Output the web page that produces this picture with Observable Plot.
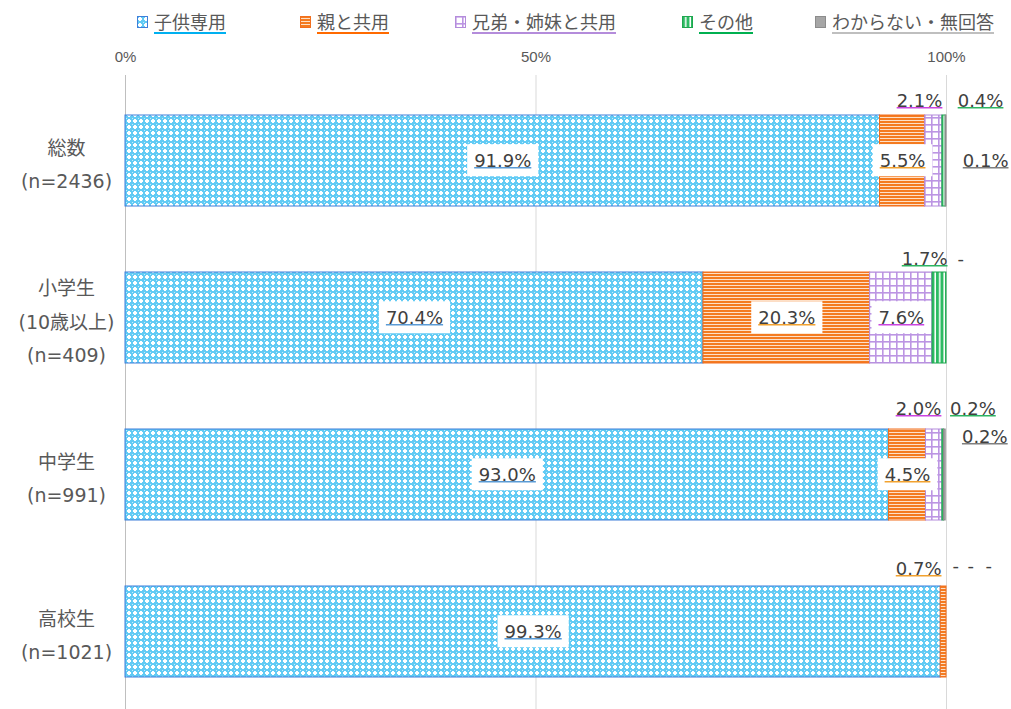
<!DOCTYPE html>
<html><head><meta charset="utf-8">
<script src="https://cdn.jsdelivr.net/npm/d3@7"></script>
<script src="https://cdn.jsdelivr.net/npm/@observablehq/plot@0.6"></script>
<style>
body{margin:0;background:#fff;width:1011px;height:709px;overflow:hidden;font-family:"DejaVu Sans","Noto Sans CJK JP",sans-serif;}
#legend{position:relative;height:40px;}
.item{position:absolute;top:10px;display:flex;align-items:center;font-size:18px;color:#595959;font-family:"Noto Sans CJK JP",sans-serif;white-space:nowrap;}
.item svg{margin-right:6px;}
.item span{border-bottom:2px solid;line-height:22px;}
</style></head><body>
<svg width="0" height="0" style="position:absolute">
<defs>
<pattern id="p0" width="6" height="6" patternUnits="userSpaceOnUse">
<rect width="6" height="6" fill="#62CBF4"/>
<rect x="2" y="1" width="2" height="4" fill="#fff"/>
<rect x="1" y="2" width="4" height="2" fill="#fff"/>
<rect x="0" y="0" width="1" height="1" fill="#C4EBFB"/>
</pattern>
<pattern id="p1" width="4" height="3" patternUnits="userSpaceOnUse">
<rect width="4" height="3" fill="#F47B20"/>
<rect y="2" width="4" height="1" fill="#FDE0C8"/>
</pattern>
<pattern id="p2" width="7" height="7" patternUnits="userSpaceOnUse">
<rect width="7" height="7" fill="#fff"/>
<rect width="1.6" height="7" fill="#BC95E3"/>
<rect width="7" height="1.6" fill="#BC95E3"/>
</pattern>
<pattern id="p3" width="4.5" height="4" patternUnits="userSpaceOnUse">
<rect width="4.5" height="4" fill="#2DBB63"/>
<rect x="3" width="1.5" height="4" fill="#fff"/>
</pattern>
<pattern id="p4" width="4" height="4" patternUnits="userSpaceOnUse">
<rect width="4" height="4" fill="#A6A6A6"/>
</pattern>
</defs>
</svg>
<div id="legend"></div><div id="chart"></div>
<script>
const categories = ["総数", "小学生", "中学生", "高校生"];
const categoryLabels = ["総数\n(n=2436)", "小学生\n(10歳以上)\n(n=409)", "中学生\n(n=991)", "高校生\n(n=1021)"];
const series = ["子供専用", "親と共用", "兄弟・姉妹と共用", "その他", "わからない・無回答"];
const valuesKodomo = [91.9, 70.4, 93.0, 99.3];
const valuesOya = [5.5, 20.3, 4.5, 0.7];
const valuesKyodai = [2.1, 7.6, 2.0, 0];
const valuesSonota = [0.4, 1.7, 0.2, 0];
const valuesWakaranai = [0.1, 0, 0.2, 0];
const xTicks = [0, 50, 100];

// styles
const patternUrls = ["url(#p0)", "url(#p1)", "url(#p2)", "url(#p3)", "url(#p4)"];
const strokeColors = ["#3F7FDA", "#F26F1E", "#B48CDB", "#1FA64F", "#8C8C8C"];
const legendLine = ["#00B0F0", "#FF6A00", "#B48CDB", "#00B050", "#BFBFBF"];
const labelLine = ["#5B9BD5", "#F2A22F", "#CC44E0", "#2DB562", "#7F7F7F"];
const legendLeft = [137, 300, 455, 682, 815];
// label placement: ["in"] centred in segment, or [anchor, dx, dy] relative to segment end
const placement = {
  "総数": [["in"], ["in"], ["end", 0, -60], ["start", 12, -60], ["end", 62, 0]],
  "小学生": [["in"], ["in"], ["in"], ["end", 1, -59], ["start", 11, -59]],
  "中学生": [["in"], ["in"], ["end", -1, -66], ["start", 6, -66], ["end", 62, -38]],
  "高校生": [["in"], ["end", -5, -63], ["start", 6, -66], ["start", 21, -66], ["start", 39, -66]]
};

const seriesValues = [valuesKodomo, valuesOya, valuesKyodai, valuesSonota, valuesWakaranai];
const rows = [];
categories.forEach((c, i) => {
  let acc = 0;
  seriesValues.forEach((arr, j) => {
    const v = arr[i];
    rows.push({cat: c, j, value: v, x1: acc, x2: acc + v, text: v > 0 ? v.toFixed(1) + "%" : "-"});
    acc += v;
  });
});

// legend
const legend = document.getElementById("legend");
series.forEach((s, j) => {
  const d = document.createElement("div");
  d.className = "item";
  d.style.left = legendLeft[j] + "px";
  d.innerHTML = `<svg width="11" height="12"><rect x="0.5" y="0.5" width="10" height="11" fill="${patternUrls[j]}" stroke="${strokeColors[j]}"/></svg><span style="border-color:${legendLine[j]}">${s}</span>`;
  legend.appendChild(d);
});

const labelMarks = rows.map(r => {
  const p = placement[r.cat][r.j];
  const inside = p[0] === "in";
  const kind = inside ? "in" : (r.value > 0 ? "out" : "dash");
  return Plot.text([r], {
    x: d => inside ? (d.x1 + d.x2) / 2 : d.x2,
    y: "cat",
    text: "text",
    textAnchor: inside ? "middle" : p[0],
    dx: inside ? 0 : p[1],
    dy: inside ? 0 : p[2],
    fontSize: 18,
    fill: "#404040",
    className: `lbl ${kind} s${r.j}`
  });
});

const chart = Plot.plot({
  width: 1011, height: 671,
  marginTop: 42, marginLeft: 125, marginRight: 65, marginBottom: 0,
  x: {domain: [0, 100], axis: null},
  y: {domain: categories, paddingInner: 0.42, paddingOuter: 0.21, axis: null},
  color: {type: "identity"},
  style: {fontFamily: '"DejaVu Sans","Noto Sans CJK JP",sans-serif', background: "white", overflow: "visible"},
  marks: [
    Plot.ruleX([0], {stroke: "#BFBFBF", insetTop: -7}),
    Plot.ruleX([50, 100], {stroke: "#D9D9D9", insetTop: -7}),
    Plot.text(xTicks, {x: d => d, text: d => d + "%", frameAnchor: "top", dy: -31, fontSize: 15, fill: "#595959", fontFamily: '"Liberation Sans Narrow","Liberation Sans",sans-serif'}),
    Plot.barX(rows.filter(d => d.value > 0), {x1: "x1", x2: "x2", y: "cat", fill: d => patternUrls[d.j], stroke: d => strokeColors[d.j], strokeWidth: 1}),
    Plot.text(categories, {y: d => d, text: (d, i) => categoryLabels[i], frameAnchor: "left", dx: -59, textAnchor: "middle", lineHeight: 1.75, fontSize: 19, fill: "#595959"}),
    ...labelMarks
  ]
});
document.getElementById("chart").appendChild(chart);

// label boxes and underlines
const ns = "http://www.w3.org/2000/svg";
chart.querySelectorAll("g.lbl").forEach(g => {
  const j = +[...g.classList].find(c => /^s\d$/.test(c)).slice(1);
  const kind = g.classList.contains("in") ? "in" : g.classList.contains("out") ? "out" : "dash";
  g.querySelectorAll("text").forEach(t => {
    const b = t.getBBox();
    const tr = t.getAttribute("transform");
    if (kind === "in") {
      const r = document.createElementNS(ns, "rect");
      r.setAttribute("x", b.x - 7); r.setAttribute("y", b.y + b.height / 2 - 16);
      r.setAttribute("width", b.width + 14); r.setAttribute("height", 32);
      r.setAttribute("fill", "white");
      if (tr) r.setAttribute("transform", tr);
      g.insertBefore(r, t);
    }
    if (kind !== "dash") {
      const l = document.createElementNS(ns, "line");
      const y = b.y + b.height * 0.86;
      l.setAttribute("x1", b.x); l.setAttribute("x2", b.x + b.width);
      l.setAttribute("y1", y); l.setAttribute("y2", y);
      l.setAttribute("stroke", labelLine[j]); l.setAttribute("stroke-width", 1.6);
      if (tr) l.setAttribute("transform", tr);
      g.appendChild(l);
    }
  });
});
</script>
</body></html>
